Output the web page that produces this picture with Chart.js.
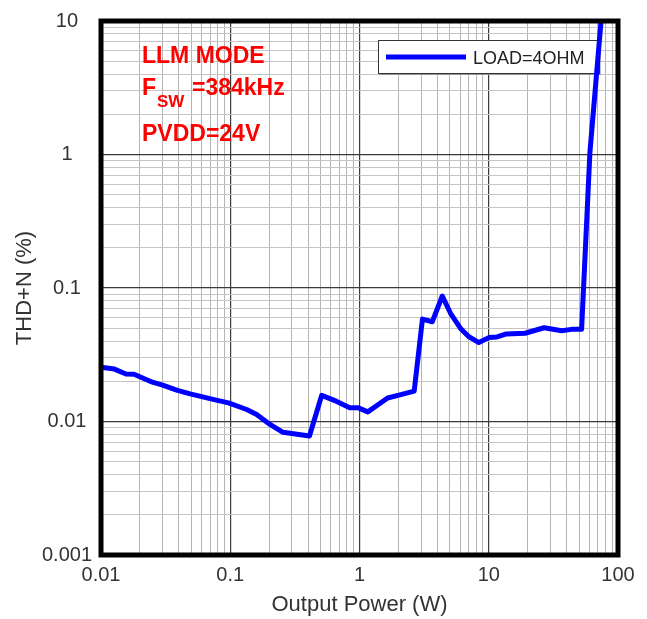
<!DOCTYPE html>
<html>
<head>
<meta charset="utf-8">
<title>THD+N vs Output Power</title>
<script src="https://cdn.jsdelivr.net/npm/chart.js@4.4.1/dist/chart.umd.min.js"></script>
<style>
  html, body { margin: 0; padding: 0; background: #fff; }
  #wrap { width: 647px; height: 619px; }
</style>
</head>
<body>
<div id="wrap"><canvas id="thdChart" width="647" height="619"></canvas></div>
<script>
// values
const powerW = [0.01, 0.0127, 0.0156, 0.018, 0.025, 0.03, 0.039, 0.049, 0.075, 0.097,
    0.134, 0.16, 0.197, 0.256, 0.41, 0.51, 0.66, 0.84, 0.97, 1.16,
    1.65, 2.09, 2.65, 3.07, 3.66, 4.37, 5.07, 6.05, 7.01, 8.38,
    10, 11.6, 13.7, 19.1, 26.8, 36.7, 43.6, 52.3, 60.6, 73.6, 76];
const thdPct = [0.0255, 0.0247, 0.0227, 0.0226, 0.0197, 0.0187, 0.0171, 0.0161, 0.0146, 0.0138,
    0.0123, 0.0113, 0.0097, 0.0083, 0.0078, 0.0157, 0.0142, 0.0127, 0.0127, 0.0118,
    0.0150, 0.0159, 0.0169, 0.0585, 0.0559, 0.0871, 0.0644, 0.0498, 0.0432, 0.039,
    0.0425, 0.043, 0.0453, 0.0458, 0.0504, 0.0479, 0.049, 0.049, 1.03, 9.5, 12];

const xDecades = [0.01, 0.1, 1, 10, 100];
const xTickLabels = ['0.01', '0.1', '1', '10', '100'];
const yDecades = [0.001, 0.01, 0.1, 1, 10];
const yTickLabels = ['0.001', '0.01', '0.1', '1', '10'];

const seriesLabel = 'LOAD=4OHM';
const noteLines = ['LLM MODE', 'PVDD=24V'];

const FONT = "'Liberation Sans', Arial, sans-serif";

function decadeIndex(v, decades) {
    return decades.findIndex(d => Math.abs(v / d - 1) < 1e-6);
}

// 1..9 x every decade, so the log grid has all its minor lines
function logTicks(decades) {
    const out = [];
    for (let i = 0; i < decades.length; i++) {
        if (i === decades.length - 1) { out.push({value: decades[i]}); break; }
        for (let m = 1; m <= 9; m++) out.push({value: +(decades[i] * m).toPrecision(6)});
    }
    return out;
}

const points = powerW.map((p, i) => ({x: p, y: thdPct[i]}));

// thick black frame, custom legend and the red notes
const decorPlugin = {
    id: 'decor',
    beforeDatasetsDraw(chart) {
        const ctx = chart.ctx;
        const ds = chart.data.datasets[0];
        ctx.save();
        // legend box
        const bx = 378, by = 40, bw = 221, bh = 33;
        ctx.fillStyle = 'rgba(0,0,0,0.25)';
        ctx.fillRect(bx + 2, by + 2, bw, bh);
        ctx.fillStyle = '#fff';
        ctx.fillRect(bx, by, bw, bh);
        ctx.strokeStyle = '#333';
        ctx.lineWidth = 1;
        ctx.strokeRect(bx + 0.5, by + 0.5, bw, bh);
        ctx.strokeStyle = ds.borderColor;
        ctx.lineWidth = 5;
        ctx.beginPath();
        ctx.moveTo(bx + 8, by + 17);
        ctx.lineTo(bx + 88, by + 17);
        ctx.stroke();
        ctx.fillStyle = '#222';
        ctx.font = '18px ' + FONT;
        ctx.textBaseline = 'alphabetic';
        ctx.fillText(ds.label, bx + 95, by + 23.5);
        ctx.restore();
    },
    afterDraw(chart) {
        const ctx = chart.ctx;
        const a = chart.chartArea;
        ctx.save();
        ctx.strokeStyle = '#000';
        ctx.lineWidth = 5;
        ctx.strokeRect(a.left, a.top, a.right - a.left, a.bottom - a.top);

        const tx = a.left + 41;
        ctx.fillStyle = '#ff0000';
        ctx.textBaseline = 'alphabetic';
        ctx.font = 'bold 23px ' + FONT;
        ctx.fillText(noteLines[0], tx, a.top + 42);
        ctx.fillText('F', tx, a.top + 73.5);
        ctx.fillText('=384kHz', tx + 50, a.top + 73.5);
        ctx.fillText(noteLines[1], tx, a.top + 119.5);
        ctx.font = 'bold 17px ' + FONT;
        ctx.fillText('SW', tx + 15, a.top + 85.5);
        ctx.restore();
    }
};

const chart = new Chart(document.getElementById('thdChart'), {
    type: 'line',
    data: {
        datasets: [{
            label: seriesLabel,
            data: points,
            borderColor: '#0000ff',
            borderWidth: 5,
            borderJoinStyle: 'round',
            borderCapStyle: 'round',
            pointRadius: 0,
            tension: 0,
            fill: false
        }]
    },
    options: {
        responsive: false,
        animation: false,
        devicePixelRatio: 1,
        parsing: false,
        layout: { padding: { left: 0, top: 17.5, right: 29, bottom: 0 } },
        plugins: {
            legend: { display: false },
            tooltip: { enabled: false }
        },
        scales: {
            x: {
                type: 'logarithmic',
                min: 0.01,
                max: 100,
                afterBuildTicks: scale => { scale.ticks = logTicks(xDecades); },
                afterFit: scale => { scale.height = 64; },
                border: { display: false },
                grid: {
                    drawTicks: false,
                    color: c => decadeIndex(c.tick.value, xDecades) >= 0 ? '#3a3a3a' : '#b4b4b4',
                    lineWidth: c => decadeIndex(c.tick.value, xDecades) >= 0 ? 1.2 : 1
                },
                ticks: {
                    autoSkip: false,
                    maxRotation: 0,
                    padding: 8,
                    color: '#333',
                    font: { family: FONT, size: 20 },
                    callback: v => {
                        const i = decadeIndex(v, xDecades);
                        return i >= 0 ? xTickLabels[i] : '';
                    }
                },
                title: {
                    display: true,
                    text: 'Output Power (W)',
                    color: '#333',
                    font: { family: FONT, size: 22 },
                    padding: { top: 0, bottom: 1 }
                }
            },
            y: {
                type: 'logarithmic',
                min: 0.001,
                max: 10,
                afterBuildTicks: scale => { scale.ticks = logTicks(yDecades); },
                afterFit: scale => { scale.width = 101; },
                border: { display: false },
                grid: {
                    drawTicks: false,
                    color: c => decadeIndex(c.tick.value, yDecades) >= 0 ? '#3a3a3a' : '#c4c4c4',
                    lineWidth: c => decadeIndex(c.tick.value, yDecades) >= 0 ? 1.2 : 1
                },
                ticks: {
                    autoSkip: false,
                    crossAlign: 'center',
                    padding: 9,
                    color: '#333',
                    font: { family: FONT, size: 20 },
                    callback: v => {
                        const i = decadeIndex(v, yDecades);
                        return i >= 0 ? yTickLabels[i] : '';
                    }
                },
                title: {
                    display: true,
                    text: 'THD+N (%)',
                    color: '#333',
                    font: { family: FONT, size: 22 },
                    padding: { top: 12, bottom: 0 }
                }
            }
        }
    },
    plugins: [decorPlugin]
});
</script>
</body>
</html>
